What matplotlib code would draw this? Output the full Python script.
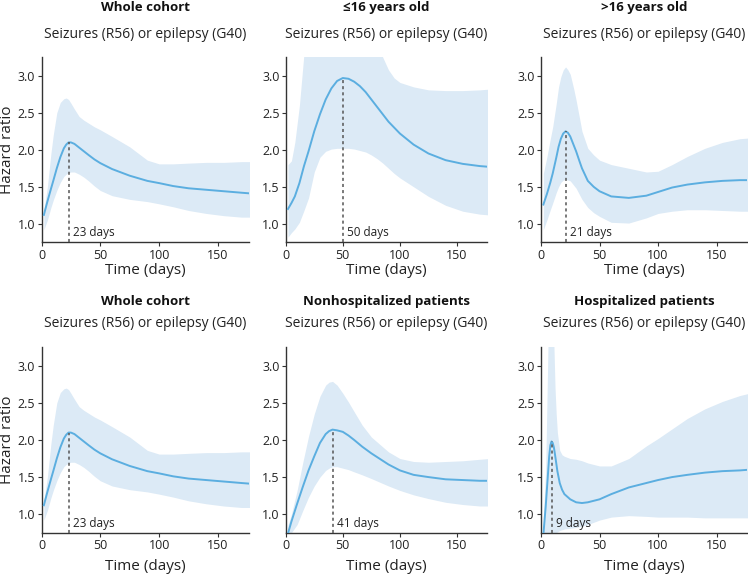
import matplotlib
matplotlib.use("Agg")
import matplotlib.pyplot as plt
import numpy as np

plt.rcParams['font.family'] = ['Open Sans', 'DejaVu Sans']

# ---------------- data ----------------
titles = ["Whole cohort", "\u226416 years old", ">16 years old",
          "Whole cohort", "Nonhospitalized patients", "Hospitalized patients"]
subtitle = "Seizures (R56) or epilepsy (G40)"
peak_days = [23, 50, 21, 23, 41, 9]

d1 = [2, 5, 8, 10, 13, 16, 19, 21, 23, 25, 28, 32, 36, 40, 45, 50, 60, 75, 90, 100, 112, 125, 140, 155, 170, 178]
hr1 = [1.12, 1.30, 1.47, 1.58, 1.75, 1.90, 2.02, 2.07, 2.10, 2.10, 2.08, 2.03, 1.98, 1.93, 1.87, 1.82, 1.74, 1.65, 1.58, 1.55, 1.51, 1.48, 1.46, 1.44, 1.42, 1.41]
hi1 = [1.18, 1.50, 1.95, 2.20, 2.50, 2.64, 2.69, 2.70, 2.68, 2.63, 2.55, 2.45, 2.40, 2.36, 2.31, 2.27, 2.18, 2.04, 1.86, 1.81, 1.81, 1.82, 1.83, 1.83, 1.84, 1.84]
lo1 = [0.92, 1.05, 1.22, 1.32, 1.45, 1.56, 1.64, 1.67, 1.69, 1.70, 1.70, 1.67, 1.63, 1.58, 1.51, 1.45, 1.38, 1.33, 1.30, 1.27, 1.23, 1.18, 1.14, 1.11, 1.09, 1.09]

d2 = [2, 5, 8, 12, 16, 20, 25, 30, 35, 40, 45, 50, 55, 60, 65, 70, 75, 80, 85, 90, 95, 100, 112, 125, 140, 155, 170, 178]
hr2 = [1.20, 1.28, 1.37, 1.55, 1.78, 1.98, 2.25, 2.48, 2.68, 2.83, 2.93, 2.97, 2.96, 2.92, 2.86, 2.78, 2.68, 2.58, 2.48, 2.38, 2.30, 2.22, 2.07, 1.95, 1.86, 1.81, 1.78, 1.77]
hi2 = [1.80, 1.85, 2.10, 2.60, 3.30, 3.60, 3.70, 3.75, 3.75, 3.75, 3.75, 3.75, 3.75, 3.70, 3.65, 3.60, 3.52, 3.45, 3.25, 3.08, 2.97, 2.91, 2.85, 2.81, 2.80, 2.80, 2.81, 2.82]
lo2 = [0.82, 0.88, 0.93, 1.02, 1.18, 1.35, 1.70, 1.90, 1.98, 2.01, 2.02, 2.02, 2.02, 2.01, 1.99, 1.97, 1.93, 1.88, 1.82, 1.75, 1.68, 1.62, 1.50, 1.37, 1.25, 1.17, 1.13, 1.12]

d3 = [2, 5, 8, 10, 13, 15, 17, 19, 21, 23, 25, 28, 30, 33, 35, 40, 45, 50, 60, 75, 90, 100, 112, 125, 140, 155, 170, 178]
hr3 = [1.26, 1.40, 1.56, 1.68, 1.89, 2.04, 2.15, 2.22, 2.25, 2.23, 2.18, 2.06, 1.98, 1.84, 1.75, 1.58, 1.50, 1.44, 1.37, 1.35, 1.38, 1.43, 1.49, 1.53, 1.56, 1.58, 1.59, 1.59]
hi3 = [1.68, 1.90, 2.15, 2.31, 2.62, 2.85, 2.99, 3.08, 3.12, 3.08, 3.02, 2.82, 2.67, 2.42, 2.25, 2.02, 1.93, 1.86, 1.80, 1.75, 1.70, 1.71, 1.80, 1.91, 2.02, 2.10, 2.15, 2.16]
lo3 = [0.92, 1.05, 1.19, 1.28, 1.42, 1.50, 1.56, 1.59, 1.60, 1.59, 1.58, 1.52, 1.48, 1.39, 1.33, 1.22, 1.15, 1.10, 1.02, 1.01, 1.08, 1.14, 1.17, 1.19, 1.19, 1.18, 1.17, 1.17]

d5 = [2, 5, 10, 15, 20, 25, 30, 35, 38, 41, 45, 50, 55, 60, 67, 75, 90, 100, 112, 125, 140, 155, 170, 178]
hr5 = [0.74, 0.90, 1.14, 1.37, 1.59, 1.78, 1.96, 2.08, 2.12, 2.14, 2.13, 2.11, 2.06, 2.00, 1.91, 1.82, 1.67, 1.59, 1.53, 1.50, 1.47, 1.46, 1.45, 1.45]
hi5 = [0.85, 1.00, 1.32, 1.70, 2.05, 2.35, 2.59, 2.74, 2.78, 2.79, 2.74, 2.63, 2.51, 2.38, 2.20, 2.04, 1.84, 1.75, 1.71, 1.70, 1.71, 1.72, 1.74, 1.75]
lo5 = [0.65, 0.75, 0.86, 1.05, 1.23, 1.38, 1.50, 1.59, 1.62, 1.64, 1.64, 1.62, 1.60, 1.57, 1.53, 1.48, 1.38, 1.32, 1.26, 1.21, 1.16, 1.13, 1.11, 1.11]

d6 = [2, 4, 6, 7, 8, 9, 10, 11, 12, 13, 14, 16, 18, 20, 25, 30, 35, 40, 50, 60, 75, 90, 100, 112, 125, 140, 155, 170, 178]
hr6 = [0.72, 1.10, 1.55, 1.78, 1.93, 1.98, 1.96, 1.90, 1.80, 1.69, 1.58, 1.42, 1.33, 1.27, 1.20, 1.16, 1.15, 1.16, 1.20, 1.27, 1.36, 1.42, 1.46, 1.50, 1.53, 1.56, 1.58, 1.59, 1.60]
hi6 = [0.95, 1.60, 3.30, 4.20, 4.50, 4.60, 4.50, 3.30, 2.70, 2.35, 2.10, 1.86, 1.80, 1.78, 1.75, 1.74, 1.72, 1.69, 1.65, 1.65, 1.75, 1.92, 2.02, 2.15, 2.29, 2.42, 2.52, 2.60, 2.63]
lo6 = [0.55, 0.60, 0.64, 0.66, 0.68, 0.70, 0.71, 0.72, 0.74, 0.75, 0.76, 0.78, 0.79, 0.80, 0.81, 0.82, 0.84, 0.86, 0.92, 0.96, 0.98, 0.97, 0.96, 0.96, 0.96, 0.95, 0.95, 0.95, 0.95]

series = [(d1, hr1, lo1, hi1), (d2, hr2, lo2, hi2), (d3, hr3, lo3, hi3),
          (d1, hr1, lo1, hi1), (d5, hr5, lo5, hi5), (d6, hr6, lo6, hi6)]

yticks = [1.0, 1.5, 2.0, 2.5, 3.0]
xticks = [0, 50, 100, 150]

# ---------------- figure ----------------
W, H = 748, 574
fig = plt.figure(figsize=(W / 100, H / 100), dpi=100)

col_lr = [(41.5, 248.5), (285.7, 486.7), (541.0, 747.0)]
row_tb = [(57.3, 242.3), (347.3, 532.7)]
title_px = [7.5, 301.5]
sub_px = [34.0, 323.5]
xlabel_pad = [1.0, 5.0]

line_c = '#5BAEE0'
fill_c = '#DCEAF6'
spine_c = '#333333'

for i in range(6):
    r, c = divmod(i, 3)
    l, rr = col_lr[c]
    t, b = row_tb[r]
    ax = fig.add_axes([l / W, (H - b) / H, (rr - l) / W, (b - t) / H])
    d, hr, lo, hi = series[i]
    ax.fill_between(d, lo, hi, color=fill_c, lw=0, zorder=1)
    ax.plot(d, hr, color=line_c, lw=1.4, zorder=3, solid_joinstyle='round')
    pk = peak_days[i]
    pv = float(np.interp(pk, d, hr))
    ax.plot([pk, pk], [0.75, pv], color='#555555', lw=1.1,
            linestyle=(0, (2.0, 2.0)), zorder=4)
    ax.annotate(f"{pk} days", xy=(pk, 0.88), xytext=(3, 0),
                textcoords='offset points', ha='left', va='center',
                fontsize=8.5, color='#222222', zorder=5)
    ax.set_xlim(0, 176)
    ax.set_ylim(0.75, 3.25)
    ax.set_xticks(xticks)
    ax.set_yticks(yticks)
    ax.set_yticklabels([f"{v:.1f}" for v in yticks])
    for s in ['top', 'right']:
        ax.spines[s].set_visible(False)
    for s in ['left', 'bottom']:
        ax.spines[s].set_color(spine_c)
        ax.spines[s].set_linewidth(1.0)
    ax.tick_params(axis='both', labelsize=9, colors=spine_c, length=3,
                   width=0.8, pad=1.5, labelcolor='#222222')
    ax.set_xlabel("Time (days)", fontsize=11, color='#222222',
                  labelpad=xlabel_pad[r])
    if c == 0:
        ax.set_ylabel("Hazard ratio", fontsize=11, color='#222222', labelpad=2)
    cx = (l + rr) / 2 / W
    fig.text(cx, 1 - title_px[r] / H, titles[i], ha='center', va='center',
             fontsize=9.5, fontweight='bold', color='#111111')
    fig.text(cx, 1 - sub_px[r] / H, subtitle, ha='center', va='center',
             fontsize=10, color='#222222')

fig.savefig("out.png", dpi=100)
